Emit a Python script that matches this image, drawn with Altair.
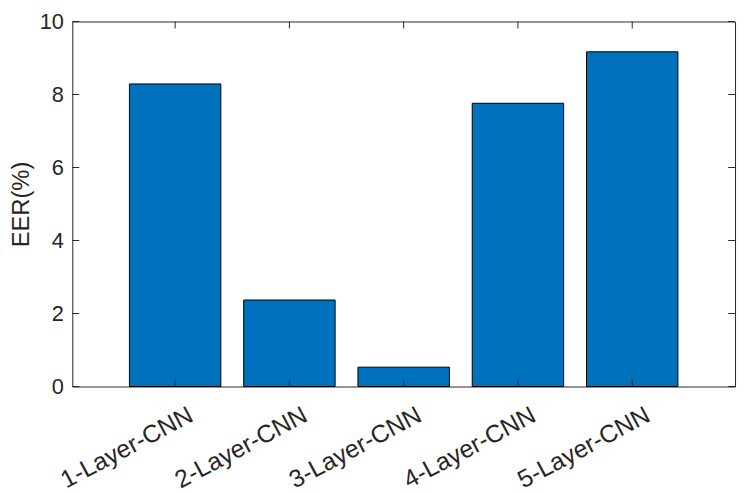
import altair as alt
import pandas as pd

names = ["1-Layer-CNN", "2-Layer-CNN", "3-Layer-CNN", "4-Layer-CNN", "5-Layer-CNN"]
eer = [8.29, 2.37, 0.53, 7.76, 9.17]
yticks = [0, 2, 4, 6, 8, 10]

W, H = 670, 369
TXT = "#262626"
FONT = "Liberation Sans"

pos = list(range(1, len(names) + 1))
df = pd.DataFrame({"name": names, "eer": eer, "pos": pos,
                   "lo": [p - 0.4 for p in pos], "hi": [p + 0.4 for p in pos]})
dfy = pd.DataFrame({"v": yticks})

label_expr = "[" + ",".join('"%s"' % n for n in names) + "][datum.value-1]"

xs = alt.Scale(domain=[0.1, 5.9], nice=False, zero=False)
ys = alt.Scale(domain=[0, 10], nice=False)

bars = alt.Chart(df).mark_bar(color="#0072BD", stroke="black", strokeWidth=1).encode(
    x=alt.X("lo:Q", scale=xs, axis=alt.Axis(
        values=pos, labelExpr=label_expr, title=None, ticks=False, domain=False, grid=False,
        labelAngle=332, labelAlign="right", labelBaseline="top", labelPadding=16,
        labelOffset=10, labelFontSize=25, labelFont=FONT, labelColor=TXT,
        labelOverlap=False, labelBound=False, labelFlush=False)),
    x2="hi:Q",
    y=alt.Y("eer:Q", scale=ys, axis=alt.Axis(
        values=yticks, title="EER(%)", ticks=False, domain=False, grid=False,
        labelFontSize=22, labelFont=FONT, labelColor=TXT, labelPadding=9,
        titleFontSize=24, titleFont=FONT, titleColor=TXT, titleFontWeight="normal",
        titlePadding=6)),
    y2=alt.datum(0),
)

tb = alt.Chart(df).mark_rule(color=TXT, strokeWidth=1).encode(
    x=alt.X("pos:Q", scale=xs), y=alt.value(H), y2=alt.value(H - 7))
tt = alt.Chart(df).mark_rule(color=TXT, strokeWidth=1).encode(
    x=alt.X("pos:Q", scale=xs), y=alt.value(0), y2=alt.value(7))
tl = alt.Chart(dfy).mark_rule(color=TXT, strokeWidth=1).encode(
    y=alt.Y("v:Q", scale=ys), x=alt.value(0), x2=alt.value(7))
tr = alt.Chart(dfy).mark_rule(color=TXT, strokeWidth=1).encode(
    y=alt.Y("v:Q", scale=ys), x=alt.value(W - 7), x2=alt.value(W))

chart = alt.layer(bars, tb, tt, tl, tr).properties(
    width=W, height=H,
    background="white",
    autosize=alt.AutoSizeParams(type="none"),
    padding={"left": 65, "top": 11, "right": 4, "bottom": 105},
).configure_view(stroke=TXT, strokeWidth=1)

chart.save("out.html", embed_options={"renderer": "svg", "actions": False})
